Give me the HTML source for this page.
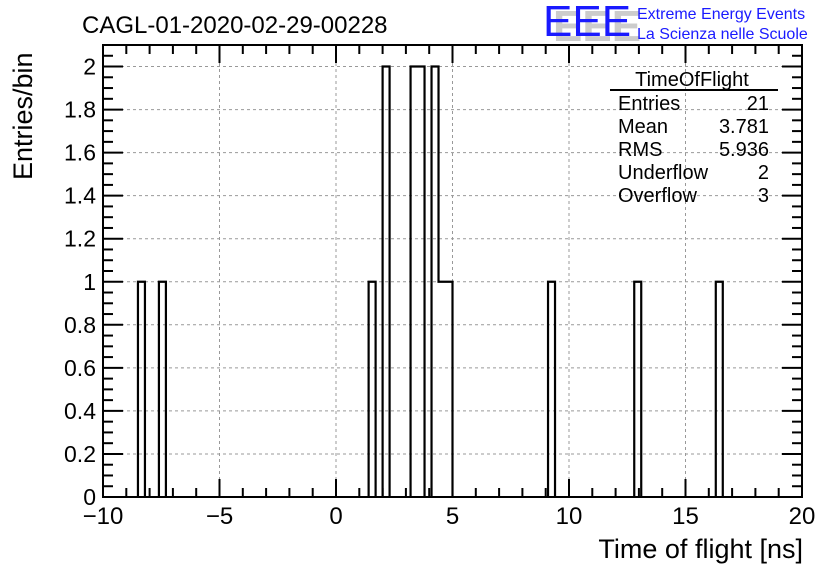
<!DOCTYPE html>
<html><head><meta charset="utf-8"><style>
body{margin:0;background:#fff;}
svg{display:block;font-family:"Liberation Sans",sans-serif;}
</style></head><body>
<svg id="chart" width="836" height="572"></svg>
<script>
const binWidth = 0.3;
const binLefts = [-8.5,-7.6,1.4,2.0,3.2,3.5,4.1,4.4,4.7,9.1,12.8,16.3];
const binCounts = [1,1,1,2,2,2,2,1,1,1,1,1];
const xTicks = [-10,-5,0,5,10,15,20];
const xTickLabels = ["\u221210","\u22125","0","5","10","15","20"];
const yTicks = [0,0.2,0.4,0.6,0.8,1,1.2,1.4,1.6,1.8,2];
const yTickLabels = ["0","0.2","0.4","0.6","0.8","1","1.2","1.4","1.6","1.8","2"];
const statNames = ["Entries","Mean","RMS","Underflow","Overflow"];
const statValues = ["21","3.781","5.936","2","3"];

const L=103,R=802,T=45,B=497,xmin=-10,xmax=20,ymin=0,ymax=2.1;
const sx=v=>L+(v-xmin)/(xmax-xmin)*(R-L);
const sy=v=>B-(v-ymin)/(ymax-ymin)*(B-T);
const svg=document.getElementById('chart');
const NS='http://www.w3.org/2000/svg';
function mk(tag,attrs,parent){const e=document.createElementNS(NS,tag);for(const k in attrs)e.setAttribute(k,attrs[k]);(parent||svg).appendChild(e);return e;}

for(let i=1;i<xTicks.length-1;i++){
 const g=mk('line',{x1:sx(xTicks[i]),x2:sx(xTicks[i]),y1:T,y2:B,stroke:'#999','stroke-dasharray':'3,3','stroke-width':1});
 
 
}
for(let i=1;i<yTicks.length;i++){
 const g=mk('line',{x1:L,x2:R,y1:sy(yTicks[i]),y2:sy(yTicks[i]),stroke:'#999','stroke-dasharray':'3,3','stroke-width':1});
 
 
}
// bars: outline with contiguous runs merged
let d='',prevRight=null;
binLefts.forEach((x0,i)=>{
 const x1=sx(x0),x2=sx(x0+binWidth),y=sy(binCounts[i]);
 if(prevRight!==null && Math.abs(prevRight-x0)<1e-6){
  d+=`V${y}H${x2}`;
 } else {
  if(d) d+=`V${B}`;
  d+=`M${x1},${B}V${y}H${x2}`;
 }
 prevRight=x0+binWidth;
});
d+=`V${B}`;
const p=mk('path',{d:d,fill:'none',stroke:'#000','stroke-width':2.2});



const f=mk('rect',{x:L,y:T,width:R-L,height:B-T,fill:'none',stroke:'#000','stroke-width':2});


for(let v=xmin;v<=xmax;v+=1){
 const maj=v%5===0,len=maj?18:9;
 mk('line',{x1:sx(v),x2:sx(v),y1:B,y2:B-len,stroke:'#000','stroke-width':2});
 mk('line',{x1:sx(v),x2:sx(v),y1:T,y2:T+len,stroke:'#000','stroke-width':2});
}
xTicks.forEach((v,i)=>{
 const t=mk('text',{x:sx(v),y:B+27,'font-size':24,'text-anchor':'middle'});
 t.textContent=xTickLabels[i];
 
 
});
for(let k=0;k<=42;k++){
 const v=k*0.05,maj=k%4===0,len=maj?20:10;
 mk('line',{x1:L,x2:L+len,y1:sy(v),y2:sy(v),stroke:'#000','stroke-width':2});
 mk('line',{x1:R,x2:R-len,y1:sy(v),y2:sy(v),stroke:'#000','stroke-width':2});
}
yTicks.forEach((v,i)=>{
 const t=mk('text',{x:L-7,y:sy(v)+8,'font-size':23,'text-anchor':'end'});
 t.textContent=yTickLabels[i];
 
 
});
const st=mk('text',{x:692,y:86,'font-size':20,'text-anchor':'middle'});st.textContent='TimeOfFlight';


mk('line',{x1:610,x2:778,y1:90,y2:90,stroke:'#000','stroke-width':2});
statNames.forEach((n,i)=>{
 const y=110+i*23;
 const a=mk('text',{x:618,y:y,'font-size':20});a.textContent=n;
 
 
 const b=mk('text',{x:769,y:y,'font-size':20,'text-anchor':'end'});b.textContent=statValues[i];
 
 
});
</script>
<svg style="position:absolute;left:0;top:0" width="836" height="572">
<text x="82" y="33" font-size="24" font-family="Liberation Sans,sans-serif">CAGL-01-2020-02-29-00228</text>
<text x="803" y="558" font-size="27" text-anchor="end" font-family="Liberation Sans,sans-serif">Time of flight [ns]</text>
<text transform="translate(32,180) rotate(-90)" font-size="27" font-family="Liberation Sans,sans-serif">Entries/bin</text>
<g>
<text x="553" y="41" font-size="44" fill="#ccc" font-family="Liberation Sans,sans-serif" font-weight="bold">EEE</text>
<text x="543" y="36" font-size="44" fill="#1a1aff" font-family="Liberation Sans,sans-serif">EEE</text>
</g>
<text x="637" y="19" font-size="16" fill="#1a1aff" font-family="Liberation Sans,sans-serif">Extreme Energy Events</text>
<text x="637" y="39" font-size="16" fill="#1a1aff" font-family="Liberation Sans,sans-serif">La Scienza nelle Scuole</text>
</svg>
</body></html>
